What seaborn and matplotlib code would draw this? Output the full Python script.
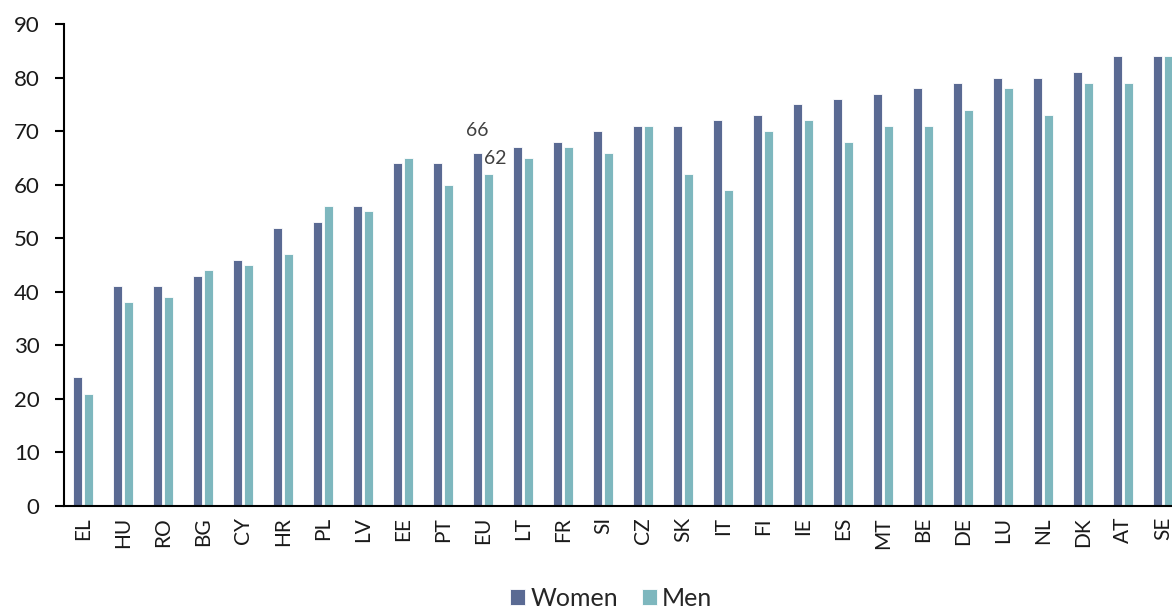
import matplotlib
matplotlib.use("Agg")
import matplotlib.pyplot as plt
import seaborn as sns
import pandas as pd

countries = ["EL", "HU", "RO", "BG", "CY", "HR", "PL", "LV", "EE", "PT", "EU", "LT", "FR", "SI",
             "CZ", "SK", "IT", "FI", "IE", "ES", "MT", "BE", "DE", "LU", "NL", "DK", "AT", "SE"]
women = [24, 41, 41, 43, 46, 52, 53, 56, 64, 64, 66, 67, 68, 70,
         71, 71, 72, 73, 75, 76, 77, 78, 79, 80, 80, 81, 84, 84]
men = [21, 38, 39, 44, 45, 47, 56, 55, 65, 60, 62, 65, 67, 66,
       71, 62, 59, 70, 72, 68, 71, 71, 74, 78, 73, 79, 79, 84]
series = ["Women", "Men"]
colors = ["#5A6A93", "#7EB7BE"]
y_ticks = [0, 10, 20, 30, 40, 50, 60, 70, 80, 90]

df = pd.DataFrame({
    "country": countries * 2,
    "value": women + men,
    "sex": [series[0]] * len(countries) + [series[1]] * len(countries),
})

sns.set_theme(style="white")
plt.rcParams["font.family"] = ["Lato", "DejaVu Sans"]

W, H = 1172, 608
fig = plt.figure(figsize=(W / 100, H / 100), dpi=100)
# axes: left spine at x=64px, x-range -0.475..27.5 with 40 px/unit (extends past the right edge)
left_px, top_px, bottom_px = 64, 24, 506
right_px = 64 + (27.5 + 0.475) * 40
ax = fig.add_axes([left_px / W, 1 - bottom_px / H, (right_px - left_px) / W, (bottom_px - top_px) / H])

sns.barplot(data=df, x="country", y="value", hue="sex", hue_order=series, order=countries,
            palette=colors, width=0.54, gap=0.167, edgecolor="white", linewidth=0.6,
            saturation=1, ax=ax)

ax.set_xlim(-0.475, 27.5)
ax.set_ylim(0, 90)
ax.set_yticks(y_ticks)
ax.set_xlabel("")
ax.set_ylabel("")
for s in ["top", "right"]:
    ax.spines[s].set_visible(False)
for s in ["left", "bottom"]:
    ax.spines[s].set_color("black")
    ax.spines[s].set_linewidth(1.5)
ax.tick_params(axis="y", length=6.5, width=1.5, color="black", labelsize=16, pad=11,
               labelcolor="#1a1a1a", left=True)
ax.tick_params(axis="x", length=0, labelsize=15, pad=8, labelcolor="#1a1a1a", rotation=90)

# value labels for EU
eu = countries.index("EU")
ax.annotate(str(women[eu]), xy=(eu - 0.135, women[eu]), xytext=(0, 16), textcoords="offset points",
            ha="center", va="center", fontsize=14, color="#404040")
ax.annotate(str(men[eu]), xy=(eu + 0.135, men[eu]), xytext=(5, 11), textcoords="offset points",
            ha="center", va="center", fontsize=14, color="#404040")

handles, labels = ax.get_legend_handles_labels()
ax.legend(handles, labels, loc="center", bbox_to_anchor=(611 / W, 1 - 598 / H),
          bbox_transform=fig.transFigure, ncol=2, frameon=False, fontsize=18,
          handlelength=0.6, handleheight=0.6, handletextpad=0.22, columnspacing=0.95,
          borderaxespad=0, borderpad=0)

fig.savefig("out.png", dpi=100)
